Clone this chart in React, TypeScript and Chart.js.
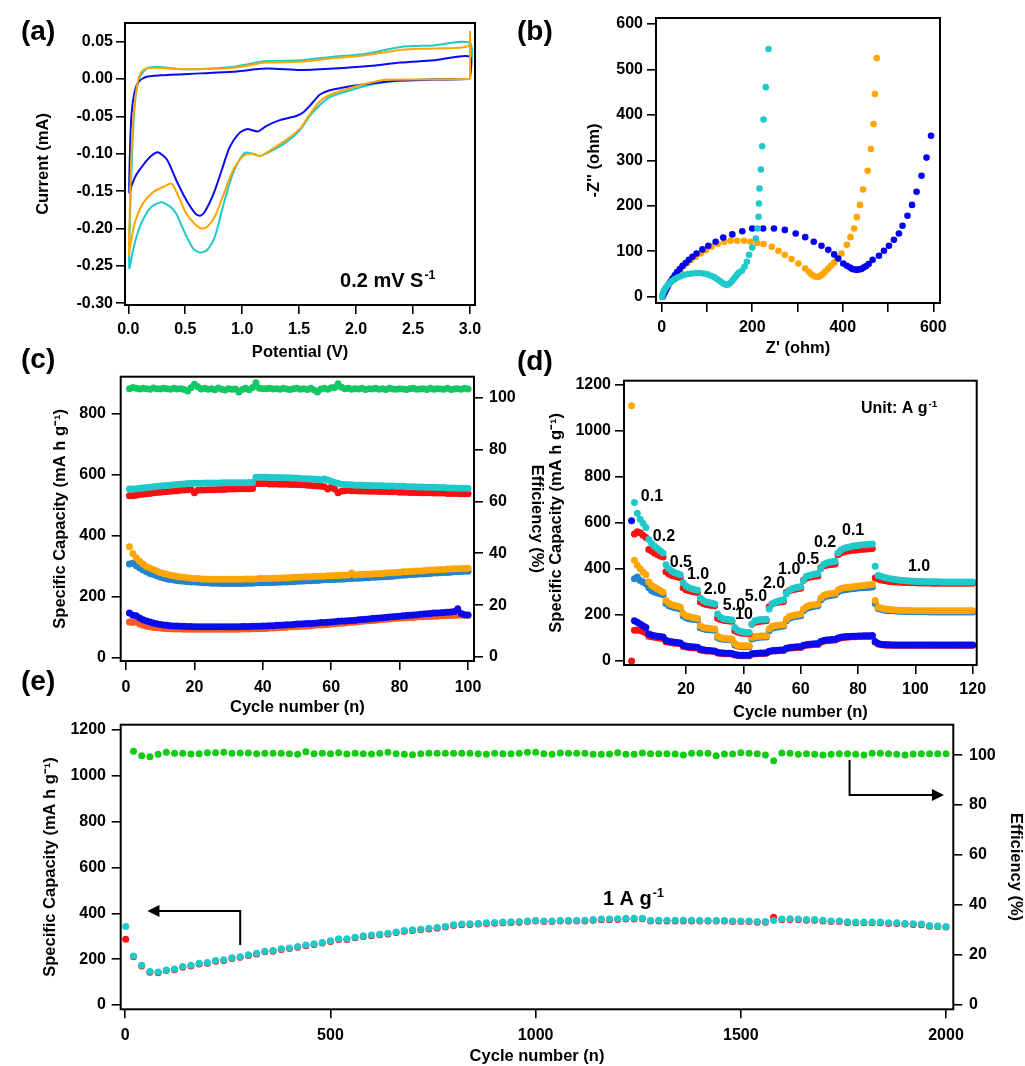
import React, { useEffect, useRef } from 'react';
import { Chart, registerables } from 'chart.js';

Chart.register(...registerables);

const FONT = "'Liberation Sans', Arial, Helvetica, sans-serif";
const TICK_SIZE = 16;
const TITLE_SIZE = 16.5;

// ---------------- (a) cyclic voltammetry ----------------
const aOrangeV = [3.0, 2.97, 2.68, 2.27, 2.09, 1.95, 1.77, 1.68, 1.59, 1.51, 1.39, 1.27, 1.16, 1.08, 1.01, 0.92, 0.83, 0.76, 0.69, 0.64, 0.59, 0.51, 0.44, 0.38, 0.31, 0.22, 0.13, 0.06, 0.015, 0.006, 0.015, 0.035, 0.059, 0.088, 0.13, 0.22, 0.48, 0.92, 1.21, 1.51, 1.80, 2.09, 2.39, 2.68, 2.985, 3.0, 3.0];
const aOrangeI = [0.0, 0.0, -0.0005, -0.001, -0.006, -0.012, -0.021, -0.030, -0.048, -0.066, -0.081, -0.093, -0.103, -0.100, -0.103, -0.122, -0.157, -0.184, -0.198, -0.200, -0.195, -0.180, -0.157, -0.140, -0.144, -0.151, -0.166, -0.191, -0.224, -0.235, -0.162, -0.073, -0.028, -0.001, 0.012, 0.015, 0.013, 0.015, 0.022, 0.023, 0.028, 0.032, 0.039, 0.041, 0.044, 0.063, 0.0];
const aBlueV = [3.0, 2.68, 2.39, 2.24, 1.98, 1.77, 1.68, 1.61, 1.54, 1.48, 1.33, 1.21, 1.14, 1.04, 0.97, 0.89, 0.82, 0.75, 0.67, 0.63, 0.59, 0.51, 0.42, 0.34, 0.26, 0.20, 0.13, 0.07, 0.03, 0.009, 0.015, 0.029, 0.053, 0.088, 0.16, 0.28, 0.63, 0.92, 1.21, 1.51, 1.80, 2.09, 2.39, 2.68, 3.0, 3.0];
const aBlueI = [0.0, -0.001, -0.002, -0.004, -0.009, -0.015, -0.021, -0.033, -0.044, -0.049, -0.055, -0.063, -0.070, -0.067, -0.073, -0.091, -0.122, -0.153, -0.178, -0.183, -0.180, -0.162, -0.135, -0.108, -0.098, -0.103, -0.115, -0.128, -0.142, -0.152, -0.095, -0.046, -0.019, -0.004, 0.003, 0.005, 0.0076, 0.0098, 0.014, 0.012, 0.014, 0.017, 0.022, 0.025, 0.030, 0.0];
const aCyanV = [3.0, 2.68, 2.27, 2.09, 1.95, 1.77, 1.68, 1.59, 1.51, 1.39, 1.27, 1.16, 1.10, 1.02, 0.92, 0.83, 0.76, 0.69, 0.63, 0.57, 0.50, 0.42, 0.37, 0.28, 0.19, 0.10, 0.044, 0.009, 0.015, 0.038, 0.061, 0.097, 0.16, 0.25, 0.48, 0.92, 1.21, 1.51, 1.80, 2.09, 2.39, 2.68, 3.0, 3.0];
const aCyanI = [0.0, 0.0, -0.004, -0.009, -0.015, -0.024, -0.035, -0.050, -0.068, -0.084, -0.095, -0.103, -0.100, -0.099, -0.126, -0.171, -0.211, -0.229, -0.232, -0.227, -0.207, -0.180, -0.171, -0.165, -0.173, -0.198, -0.227, -0.253, -0.184, -0.082, -0.028, 0.001, 0.014, 0.0165, 0.013, 0.0165, 0.024, 0.025, 0.030, 0.034, 0.043, 0.045, 0.048, 0.0];
const aXTicks = [0, 0.5, 1, 1.5, 2, 2.5, 3];
const aYTicks = [-0.3, -0.25, -0.2, -0.15, -0.1, -0.05, 0, 0.05];

// ---------------- (b) Nyquist ----------------
const bCyanX = [1, 2, 4, 6, 9, 13, 17, 22, 28, 35, 42, 50, 58, 66, 75, 84, 93, 101, 109, 116, 122, 128, 133, 138, 143, 147, 151, 155, 159, 163, 167, 171, 177, 183, 188, 193, 200, 208, 212, 214, 215, 216, 219, 222, 225, 230, 236];
const bCyanY = [0, 5, 10, 15, 20, 25, 29, 34, 38, 42, 45, 48, 50, 51, 52, 52, 51, 49, 46, 43, 39, 35, 31, 28, 26, 27, 30, 34, 39, 44, 49, 53, 57, 66, 77, 92, 108, 128, 150, 176, 205, 238, 280, 331, 390, 461, 545];
const bOrangeX = [2, 4, 7, 10, 14, 18, 23, 28, 34, 41, 48, 56, 65, 75, 86, 98, 110, 124, 138, 152, 167, 182, 196, 211, 225, 243, 258, 272, 287, 302, 317, 325, 331, 337, 342, 347, 352, 357, 362, 368, 374, 381, 387, 397, 409, 417, 425, 431, 438, 445, 455, 462, 468, 471, 475];
const bOrangeY = [0, 5, 11, 17, 24, 31, 38, 45, 52, 60, 67, 74, 81, 88, 95, 102, 110, 116, 121, 123, 123, 123, 121, 118, 116, 110, 101, 92, 83, 73, 62, 55, 49, 45, 44, 44, 47, 51, 56, 62, 68, 75, 82, 95, 114, 131, 150, 175, 202, 236, 277, 325, 380, 446, 525];
const bBlueX = [2, 4, 7, 10, 13, 16, 20, 24, 29, 34, 40, 46, 53, 60, 68, 77, 90, 103, 119, 136, 156, 178, 200, 224, 248, 272, 296, 317, 336, 353, 368, 381, 390, 401, 409, 416, 421, 426, 431, 436, 441, 446, 451, 457, 466, 480, 491, 502, 513, 524, 532, 543, 553, 563, 574, 585, 595];
const bBlueY = [0, 4, 10, 16, 22, 28, 34, 40, 47, 54, 61, 68, 74, 81, 88, 95, 104, 112, 121, 130, 137, 144, 150, 150, 150, 147, 139, 131, 121, 112, 103, 93, 84, 73, 68, 64, 61, 60, 59, 60, 61, 64, 67, 72, 81, 90, 101, 112, 125, 139, 156, 178, 202, 231, 266, 306, 354];
const bTicks = [0, 100, 200, 300, 400, 500, 600];

// ---------------- (c) cycling at low rate, 100 cycles ----------------
const cEff = [
  103.5, 103.9, 103.6, 103.4, 103.6, 103.5, 103.3, 103.7, 103.5, 103.4,
  103.6, 103.5, 103.3, 103.6, 103.4, 103.5, 103.2, 102.6, 103.8, 105.2,
  104.2, 103.4, 103.6, 103.3, 103.5, 103.1, 103.7, 103.3, 103.0, 103.5,
  103.3, 103.4, 102.2, 103.2, 103.6, 103.1, 103.9, 105.8, 103.6, 103.5,
  103.5, 103.6, 103.4, 103.5, 103.3, 103.6, 103.4, 103.2, 103.5, 103.6,
  103.3, 103.5, 103.2, 103.6, 103.0, 102.2, 103.4, 103.6, 103.3, 103.8,
  103.9, 105.4, 104.0, 103.5, 103.6, 103.3, 103.5, 103.4, 103.6, 103.2,
  103.5, 103.4, 103.6, 103.3, 103.5, 103.2, 103.6, 103.4, 103.3, 103.5,
  103.4, 103.2, 103.5, 103.6, 103.3, 103.4, 103.5, 103.2, 103.6, 103.3,
  103.5, 103.4, 103.3, 103.6, 103.2, 103.4, 103.5, 103.3, 103.6, 103.4];
const cCyan = [
  552, 552, 553, 555, 556, 557, 558, 560, 561, 562,
  563, 564, 565, 566, 567, 568, 569, 570, 570, 571,
  571, 571, 572, 572, 572, 572, 572, 573, 573, 573,
  573, 573, 573, 573, 573, 574, 574, 591, 591, 591,
  591, 590, 590, 590, 590, 589, 589, 589, 588, 588,
  587, 586, 586, 585, 585, 584, 583, 585, 582, 578,
  574, 571, 568, 567, 566, 566, 565, 565, 565, 564,
  564, 564, 563, 563, 563, 562, 562, 562, 561, 561,
  561, 560, 560, 560, 559, 559, 559, 558, 558, 558,
  557, 557, 557, 556, 556, 556, 555, 555, 555, 554];
const cRed = [
  530, 530, 532, 534, 535, 537, 538, 540, 541, 542,
  543, 544, 545, 546, 547, 548, 549, 550, 550, 540,
  548, 549, 549, 550, 550, 550, 551, 551, 551, 552,
  552, 552, 553, 553, 553, 553, 554, 570, 570, 570,
  570, 569, 569, 569, 568, 568, 568, 567, 567, 567,
  566, 566, 565, 564, 563, 562, 561, 560, 552, 558,
  552, 540, 545, 547, 548, 547, 547, 546, 546, 546,
  545, 545, 545, 544, 544, 544, 543, 543, 543, 542,
  542, 542, 541, 541, 541, 540, 540, 540, 540, 539,
  539, 539, 539, 538, 538, 538, 538, 537, 537, 537];
const cOrange = [
  363, 341, 327, 316, 307, 299, 294, 289, 284, 279,
  276, 273, 270, 268, 266, 264, 263, 262, 260, 259,
  259, 258, 258, 257, 257, 257, 257, 257, 257, 257,
  257, 257, 257, 257, 258, 258, 258, 258, 259, 259,
  259, 259, 260, 260, 261, 261, 262, 262, 263, 263,
  264, 264, 265, 265, 266, 266, 267, 267, 268, 268,
  269, 269, 270, 270, 271, 277, 271, 272, 272, 273,
  273, 274, 275, 275, 276, 277, 278, 278, 279, 280,
  281, 281, 282, 283, 284, 284, 285, 286, 287, 287,
  288, 289, 289, 290, 290, 291, 291, 292, 292, 293];
const cSteel = [
  307, 309, 301, 294, 287, 281, 276, 272, 268, 264,
  261, 258, 256, 254, 252, 251, 250, 249, 248, 248,
  247, 246, 245, 245, 244, 244, 244, 243, 243, 243,
  243, 243, 243, 243, 244, 244, 244, 245, 245, 245,
  246, 246, 246, 247, 247, 248, 248, 249, 249, 250,
  250, 251, 252, 252, 253, 253, 254, 255, 255, 256,
  256, 257, 257, 258, 259, 259, 260, 260, 261, 262,
  262, 263, 263, 264, 265, 265, 266, 267, 268, 269,
  270, 271, 272, 272, 273, 274, 274, 275, 276, 277,
  277, 278, 279, 279, 280, 281, 281, 282, 283, 283];
const cBlue = [
  146, 139, 137, 130, 124, 120, 117, 114, 111, 109,
  107, 106, 105, 104, 104, 103, 103, 102, 102, 101,
  101, 101, 101, 101, 101, 101, 101, 101, 101, 101,
  101, 101, 101, 102, 102, 102, 103, 103, 103, 104,
  104, 105, 105, 106, 106, 107, 108, 108, 109, 110,
  110, 111, 112, 112, 113, 114, 115, 115, 116, 117,
  118, 119, 120, 120, 121, 122, 123, 124, 125, 126,
  127, 128, 129, 130, 131, 132, 133, 134, 135, 136,
  137, 138, 139, 140, 141, 142, 143, 144, 145, 146,
  146, 147, 148, 149, 150, 151, 160, 145, 141, 140];
const cRed2 = [
  117, 115, 117, 110, 106, 103, 101, 99, 98, 97,
  96, 95, 95, 94, 94, 94, 93, 93, 93, 93,
  93, 93, 93, 93, 93, 93, 93, 93, 93, 93,
  93, 93, 93, 94, 94, 94, 95, 95, 95, 96,
  96, 97, 97, 98, 99, 99, 100, 101, 101, 102,
  103, 103, 104, 105, 106, 107, 107, 108, 109, 110,
  111, 112, 113, 114, 115, 116, 117, 118, 119, 120,
  121, 122, 123, 124, 125, 126, 127, 128, 129, 130,
  130, 131, 132, 132, 133, 134, 134, 135, 135, 136,
  136, 137, 137, 138, 138, 139, 139, 139, 139, 139];

// ---------------- (d) rate capability, 120 cycles ----------------
const dCyan = [null, 689, 642, 616, 599, 580,
  528, 511, 499, 489, 479, 470,
  419, 401, 391, 384, 380, 375,
  340, 326, 318, 314, 311, 308,
  274, 263, 257, 254, 251, 248,
  204, 190, 184, 181, 180, 178,
  146, 134, 128, 126, 124, 124,
  161, 175, 178, 180, 180, 181,
  226, 248, 255, 260, 263, 266,
  292, 307, 314, 318, 321, 324,
  350, 368, 372, 375, 378, 380,
  401, 420, 426, 429, 431, 434,
  470, 482, 489, 493, 496, 499, 501, 502, 504, 505, 507, 508, 509,
  412, 372, 368, 364, 361, 358, 356, 354, 352, 351, 350, 349, 348, 347, 347, 346, 346, 346, 345, 345,
  345, 345, 345, 344, 344, 344, 344, 344, 344, 344, 344, 344, 344, 344, 344];
const dRed = [null, 552, 562, 558, 547, 537,
  485, 478, 470, 463, 457, 452,
  388, 378, 372, 368, 365, 362,
  318, 310, 305, 302, 300, 298,
  256, 250, 246, 243, 241, 240,
  186, 180, 177, 175, 174, 173,
  132, 126, 122, 121, 120, 120,
  160, 168, 171, 173, 174, 175,
  236, 248, 252, 255, 257, 259,
  298, 305, 309, 312, 314, 316,
  352, 360, 364, 366, 368, 370,
  405, 413, 416, 418, 420, 422,
  462, 470, 474, 477, 479, 481, 482, 484, 485, 486, 487, 488, 489,
  362, 356, 352, 350, 348, 346, 345, 344, 343, 342, 341, 341, 340, 340, 340, 339, 339, 339, 339, 339,
  338, 338, 338, 338, 338, 338, 338, 338, 338, 338, 338, 338, 338, 338, 338];
const dOrange = [1110, 438, 416, 401, 387, 375,
  343, 328, 321, 314, 307, 299,
  263, 251, 245, 241, 238, 234,
  207, 197, 193, 190, 187, 185,
  153, 146, 143, 142, 140, 139,
  109, 102, 99, 98, 96, 96,
  76, 69, 66, 66, 66, 66,
  102, 107, 108, 109, 109, 109,
  139, 150, 153, 155, 156, 158,
  182, 193, 197, 200, 201, 204,
  226, 236, 241, 244, 245, 248,
  274, 285, 289, 292, 293, 295,
  309, 315, 318, 320, 321, 323, 324, 326, 327, 328, 330, 331, 333,
  263, 234, 230, 227, 225, 224, 223, 222, 221, 221, 220, 220, 220, 219, 219, 219, 219, 219, 219, 218,
  218, 218, 218, 218, 218, 218, 218, 218, 218, 218, 218, 218, 218, 218, 218];
const dSteel = [null, 358, 365, 350, 343, 336,
  318, 305, 300, 296, 292, 288,
  250, 240, 236, 232, 229, 226,
  196, 188, 184, 182, 180, 178,
  145, 140, 137, 136, 135, 134,
  102, 97, 95, 93, 92, 91,
  70, 65, 63, 62, 62, 62,
  96, 100, 102, 103, 104, 104,
  132, 142, 146, 148, 150, 152,
  175, 186, 190, 193, 195, 197,
  218, 228, 233, 236, 238, 240,
  265, 276, 281, 284, 286, 288,
  300, 306, 309, 311, 313, 314, 315, 317, 318, 319, 320, 321, 322,
  250, 228, 225, 222, 220, 219, 218, 217, 216, 216, 215, 215, 215, 214, 214, 214, 214, 214, 214, 213,
  213, 213, 213, 213, 213, 213, 213, 213, 213, 213, 213, 213, 213, 213, 213];
const dBlue = [610, 175, 168, 161, 153, 146,
  117, 113, 110, 108, 106, 104,
  90, 86, 84, 82, 80, 78,
  68, 65, 63, 62, 61, 60,
  52, 49, 47, 46, 45, 44,
  38, 36, 35, 34, 34, 33,
  28, 26, 25, 25, 25, 25,
  31, 33, 34, 35, 35, 36,
  42, 45, 46, 47, 48, 48,
  55, 58, 60, 61, 62, 62,
  68, 71, 73, 74, 75, 75,
  85, 89, 91, 92, 93, 94,
  100, 103, 105, 106, 107, 108, 108, 109, 109, 110, 110, 110, 111,
  85, 76, 73, 72, 71, 71, 70, 70, 70, 70, 70, 70, 70, 70, 70, 70, 70, 70, 70, 70,
  70, 70, 70, 70, 70, 70, 70, 70, 70, 70, 70, 70, 70, 70, 70];
const dRed2 = [0, 134, 135, 133, 128, 122,
  108, 105, 103, 101, 99, 98,
  84, 81, 79, 77, 76, 75,
  63, 61, 59, 58, 57, 56,
  48, 46, 44, 43, 42, 41,
  35, 33, 32, 31, 31, 30,
  26, 24, 23, 23, 23, 23,
  29, 31, 32, 33, 33, 34,
  40, 43, 44, 45, 46, 46,
  53, 56, 57, 58, 59, 59,
  65, 68, 70, 71, 72, 72,
  82, 86, 88, 89, 90, 91,
  97, 100, 102, 103, 104, 105, 105, 106, 106, 107, 107, 107, 108,
  82, 74, 71, 70, 69, 69, 68, 68, 68, 68, 68, 68, 68, 68, 68, 68, 68, 68, 68, 68,
  68, 68, 68, 68, 68, 68, 68, 68, 68, 68, 68, 68, 68, 68, 68];
const dRateText = ['0.1', '0.2', '0.5', '1.0', '2.0', '5.0', '10', '5.0', '2.0', '1.0', '0.5', '0.2', '0.1', '1.0'];

// ---------------- (e) long cycling at 1 A/g ----------------
const eCycles = [1, 20, 40, 60, 80, 100, 120, 140, 160, 180, 200, 220, 240, 260, 280, 300, 320, 340, 360, 380,
  400, 420, 440, 460, 480, 500, 520, 540, 560, 580, 600, 620, 640, 660, 680, 700, 720, 740, 760, 780,
  800, 820, 840, 860, 880, 900, 920, 940, 960, 980, 1000, 1020, 1040, 1060, 1080, 1100, 1120, 1140, 1160, 1180,
  1200, 1220, 1240, 1260, 1280, 1300, 1320, 1340, 1360, 1380, 1400, 1420, 1440, 1460, 1480, 1500, 1520, 1540, 1560, 1580,
  1600, 1620, 1640, 1660, 1680, 1700, 1720, 1740, 1760, 1780, 1800, 1820, 1840, 1860, 1880, 1900, 1920, 1940, 1960, 1980, 2000];
const eCyan = [343, 214, 173, 146, 144, 153, 157, 168, 173, 182, 185, 194, 197, 206, 211, 219, 226, 235, 238, 245,
  249, 255, 262, 267, 273, 280, 289, 289, 296, 302, 305, 309, 313, 319, 325, 328, 331, 335, 338, 343,
  350, 353, 354, 356, 359, 360, 362, 363, 364, 367, 369,
  367, 367, 369, 369, 369, 370, 373, 375, 375, 376, 378, 378, 379, 369, 370, 370, 370, 370, 370, 369,
  369, 369, 369, 367, 367, 367, 364, 364, 369, 375, 376, 375, 373, 373, 370, 367, 367, 363, 362, 362,
  362, 362, 359, 359, 356, 354, 353, 347, 345, 343];
const eRed = [287, 210, 170, 143, 141, 150, 154, 165, 170, 179, 182, 191, 194, 203, 208, 216, 223, 232, 235, 242,
  246, 252, 259, 264, 270, 277, 286, 286, 293, 299, 302, 306, 310, 316, 322, 325, 328, 332, 335, 340,
  347, 350, 351, 353, 356, 357, 359, 360, 361, 364, 366,
  364, 364, 366, 366, 366, 367, 370, 372, 372, 373, 375, 375, 376, 366, 367, 367, 367, 367, 367, 366,
  366, 366, 366, 364, 364, 364, 361, 361, 383, 372, 373, 372, 370, 370, 367, 364, 364, 360, 359, 359,
  359, 359, 356, 356, 353, 351, 350, 344, 342, 340];
const eEff = [null, 101.5, 99.7, 99.3, 100.3, 101.1, 100.7, 100.7, 100.4, 100.5, 100.9, 100.9, 101.1, 100.7, 100.8, 100.8, 100.5, 100.7, 100.7, 100.7,
  100.5, 100.3, 101.3, 100.5, 100.7, 100.5, 100.9, 100.4, 100.7, 100.5, 100.4, 100.7, 101.1, 100.5, 100.3, 100.1, 100.5, 100.7, 100.7, 100.7,
  100.7, 100.7, 100.7, 100.5, 100.3, 100.7, 100.5, 100.5, 100.7, 101.1, 101.1,
  100.5, 100.3, 100.8, 100.7, 100.7, 100.7, 100.3, 100.3, 100.4, 100.9, 100.3, 100.3, 100.8, 100.5, 100.5, 100.5, 100.4, 100.0, 100.7, 100.7,
  100.7, 99.7, 100.4, 100.4, 100.9, 100.7, 100.5, 100.0, 97.7, 100.8, 100.7, 100.3, 100.5, 100.3, 100.0, 100.3, 100.5, 100.5, 100.3, 100.0,
  100.7, 100.7, 100.5, 100.3, 100.0, 100.4, 100.5, 100.5, 100.5, 100.5];

// ---------------- colours ----------------
const C_ORANGE = '#FFA500';
const C_CYAN = '#1EC9C9';
const C_BLUE = '#0A0AEE';
const C_RED = '#F51212';
const C_STEEL = '#2383CC';
const C_ORED = '#FF5A1E';
const C_GREEN_C = '#12C864';
const C_GREEN_E = '#12CC12';

// ---------------- helpers ----------------
type AxisOpts = {
  pos: 'left' | 'right' | 'bottom';
  min: number; max: number; ticks: number[];
  label?: (v: number) => string;
  title?: string; size: number; titlePad?: number; tickPad: number;
};

function axis(o: AxisOpts) {
  const horiz = o.pos === 'bottom';
  return {
    type: 'linear',
    position: o.pos,
    min: o.min,
    max: o.max,
    bounds: 'data',
    afterBuildTicks: (s: any) => { s.ticks = o.ticks.map((v) => ({ value: v })); },
    afterFit: (s: any) => { if (horiz) s.height = o.size; else s.width = o.size; },
    grid: { display: true, drawOnChartArea: false, drawTicks: true, tickLength: 9, tickWidth: 1.6, tickColor: '#000', color: '#000', lineWidth: 1.6 },
    border: { display: false },
    ticks: {
      autoSkip: false, maxRotation: 0, minRotation: 0, padding: o.tickPad, color: '#000',
      font: { family: FONT, size: TICK_SIZE, weight: 'bold' },
      callback: (v: any) => (o.label ? o.label(Number(v)) : String(v)),
    },
    title: o.title
      ? {
          display: true, text: o.title, color: '#000',
          font: { family: FONT, size: TITLE_SIZE, weight: 'bold' },
          padding: horiz ? { top: 0, bottom: o.titlePad ?? 0 } : { top: o.titlePad ?? 0, bottom: 0 },
        }
      : { display: false },
  };
}

function baseOptions(padTop: number, padRight: number, scales: any) {
  return {
    responsive: false,
    animation: false,
    events: [],
    layout: { padding: { top: padTop, right: padRight, left: 0, bottom: 0 } },
    plugins: { legend: { display: false }, tooltip: { enabled: false } },
    scales,
  };
}

const framePlugin = {
  id: 'frame',
  afterDatasetsDraw(chart: any) {
    const { ctx, chartArea: a } = chart;
    ctx.save();
    ctx.strokeStyle = '#000';
    ctx.lineWidth = 2;
    ctx.strokeRect(a.left, a.top, a.right - a.left, a.bottom - a.top);
    ctx.restore();
  },
};

type Note = { x: number; y: number; text: string; sup?: string; size: number; center?: boolean; yAxis?: string };
type Arrow = { pts: [number, number][]; yAxis?: string };

function notesPlugin(notes: Note[], arrows: Arrow[] = []) {
  return {
    id: 'notes',
    afterDraw(chart: any) {
      const ctx = chart.ctx;
      const xs = chart.scales.x;
      ctx.save();
      ctx.fillStyle = '#000';
      ctx.strokeStyle = '#000';
      ctx.textAlign = 'left';
      for (const n of notes) {
        const ys = chart.scales[n.yAxis || 'y'];
        let px = xs.getPixelForValue(n.x);
        const py = ys.getPixelForValue(n.y);
        ctx.font = `bold ${n.size}px ${FONT}`;
        const w1 = ctx.measureText(n.text).width;
        const ss = n.size * 0.62;
        let w2 = 0;
        if (n.sup) { ctx.font = `bold ${ss}px ${FONT}`; w2 = ctx.measureText(n.sup).width + 1; }
        if (n.center) px -= (w1 + w2) / 2;
        ctx.textBaseline = n.center ? 'middle' : 'alphabetic';
        ctx.font = `bold ${n.size}px ${FONT}`;
        ctx.fillText(n.text, px, py);
        if (n.sup) {
          ctx.font = `bold ${ss}px ${FONT}`;
          ctx.fillText(n.sup, px + w1 + 1, py - n.size * 0.42);
        }
      }
      for (const a of arrows) {
        const ys = chart.scales[a.yAxis || 'y'];
        const p = a.pts.map(([x, y]) => [xs.getPixelForValue(x), ys.getPixelForValue(y)]);
        const [tx, ty] = p[p.length - 1];
        const [bx, by] = p[p.length - 2];
        const ang = Math.atan2(ty - by, tx - bx);
        const L = 12, H = 6;
        const c = Math.cos(ang), s = Math.sin(ang);
        ctx.lineWidth = 2;
        ctx.beginPath();
        ctx.moveTo(p[0][0], p[0][1]);
        for (let i = 1; i < p.length - 1; i++) ctx.lineTo(p[i][0], p[i][1]);
        ctx.lineTo(tx - L * c * 0.8, ty - L * s * 0.8);
        ctx.stroke();
        ctx.beginPath();
        ctx.moveTo(tx, ty);
        ctx.lineTo(tx - L * c + H * s, ty - L * s - H * c);
        ctx.lineTo(tx - L * c - H * s, ty - L * s + H * c);
        ctx.closePath();
        ctx.fill();
      }
      ctx.restore();
    },
  };
}

const pairs = (xs: number[], ys: (number | null)[]) => xs.map((x, i) => ({ x, y: ys[i] }));
const byCycle = (ys: (number | null)[]) => ys.map((y, i) => ({ x: i + 1, y }));

function dots(data: any[], color: string, r: number, yAxisID = 'y') {
  return {
    data, yAxisID, showLine: false,
    backgroundColor: color, borderColor: color,
    pointRadius: r, pointHoverRadius: r, pointBorderWidth: 0,
  };
}

function cvLine(v: number[], i: number[], color: string) {
  return {
    data: pairs(v, i), showLine: true, fill: false,
    borderColor: color, backgroundColor: color, borderWidth: 2,
    pointRadius: 0, pointHoverRadius: 0, tension: 0.25,
  };
}

// ---------------- panel configs ----------------
const makeA = () => ({
  type: 'scatter',
  data: { datasets: [cvLine(aOrangeV, aOrangeI, C_ORANGE), cvLine(aBlueV, aBlueI, C_BLUE), cvLine(aCyanV, aCyanI, C_CYAN)] },
  options: baseOptions(23, 25, {
    x: axis({ pos: 'bottom', min: -0.029, max: 3.044, ticks: aXTicks, label: (v) => v.toFixed(1), title: 'Potential (V)', size: 60, titlePad: 3, tickPad: 6 }),
    y: axis({ pos: 'left', min: -0.3023, max: 0.075, ticks: aYTicks, label: (v) => v.toFixed(2), title: 'Current (mA)', size: 125, titlePad: 34, tickPad: 3 }),
  }),
  plugins: [framePlugin, notesPlugin([{ x: 1.859, y: -0.2783, text: '0.2 mV S', sup: '-1', size: 20 }])],
});

const makeB = () => ({
  type: 'scatter',
  data: { datasets: [dots(pairs(bCyanX, bCyanY), C_CYAN, 3.3), dots(pairs(bBlueX, bBlueY), '#0000F5', 3.3), dots(pairs(bOrangeX, bOrangeY), C_ORANGE, 3.3)] },
  options: baseOptions(18, 60, {
    x: axis({ pos: 'bottom', min: -12.6, max: 614.8, ticks: bTicks, label: (v) => (v % 200 === 0 ? String(v) : ''), title: "Z' (ohm)", size: 62, titlePad: 7, tickPad: 5.5 }),
    y: axis({ pos: 'left', min: -13.9, max: 613.2, ticks: bTicks, title: "-Z'' (ohm)", size: 156, titlePad: 85, tickPad: 4 }),
  }),
  plugins: [framePlugin],
});

const CAP_TITLE = 'Specific Capacity (mA h g\u207B\u00B9)';

const makeC = () => ({
  type: 'scatter',
  data: {
    datasets: [
      dots(byCycle(cEff), C_GREEN_C, 3.5, 'y2'),
      dots(byCycle(cCyan), C_CYAN, 3.5),
      dots(byCycle(cRed), C_RED, 3.5),
      dots(byCycle(cOrange), C_ORANGE, 3.5),
      dots(byCycle(cSteel), C_STEEL, 3.5),
      dots(byCycle(cBlue), C_BLUE, 3.5),
      dots(byCycle(cRed2), C_ORED, 3.5),
    ],
  },
  options: baseOptions(46.7, 0, {
    x: axis({ pos: 'bottom', min: -1.55, max: 101.75, ticks: [0, 20, 40, 60, 80, 100], title: 'Cycle number (n)', size: 59, titlePad: 2.6, tickPad: 7.5 }),
    y: axis({ pos: 'left', min: -10.8, max: 920, ticks: [0, 200, 400, 600, 800], title: CAP_TITLE, size: 120.7, titlePad: 51, tickPad: 5.7 }),
    y2: axis({ pos: 'right', min: -1.54, max: 108.1, ticks: [0, 20, 40, 60, 80, 100], title: 'Efficiency (%)', size: 86, titlePad: 14, tickPad: 6 }),
  }),
  plugins: [framePlugin],
});

const makeD = () => ({
  type: 'scatter',
  data: {
    datasets: [
      dots(byCycle(dCyan), C_CYAN, 3.5),
      dots(byCycle(dRed), '#FF1010', 3.5),
      dots(byCycle(dOrange), C_ORANGE, 3.5),
      dots(byCycle(dSteel), C_STEEL, 3.5),
      dots(byCycle(dBlue), C_BLUE, 3.5),
      dots(byCycle(dRed2), '#FF1010', 3.5),
    ],
  },
  options: baseOptions(50.7, 48.3, {
    x: axis({ pos: 'bottom', min: -1.64, max: 121.4, ticks: [20, 40, 60, 80, 100, 120], title: 'Cycle number (n)', size: 65, titlePad: 8, tickPad: 5.5 }),
    y: axis({ pos: 'left', min: -17.4, max: 1218.7, ticks: [0, 200, 400, 600, 800, 1000, 1200], title: CAP_TITLE, size: 124, titlePad: 47, tickPad: 4 }),
  }),
  plugins: [
    framePlugin,
    notesPlugin([
      { x: 81, y: 1077, text: 'Unit: A g', sup: '-1', size: 16 },
      ...[
        [8.1, 713], [12.3, 543], [18.2, 430], [24.2, 374], [30.1, 309], [36.7, 239], [40.2, 200],
        [44.4, 278], [50.7, 335], [56.0, 396], [62.6, 443], [68.5, 513], [78.3, 565], [101.3, 409],
      ].map(([x, y], i) => ({ x, y, text: dRateText[i], size: 16, center: true })),
    ]),
  ],
});

const makeE = () => ({
  type: 'scatter',
  data: {
    datasets: [
      dots(pairs(eCycles, eEff), C_GREEN_E, 3.5, 'y2'),
      dots(pairs(eCycles, eCyan), C_CYAN, 3.5),
      dots(pairs(eCycles, eRed), '#FF1010', 3.5),
    ],
  },
  options: baseOptions(44.7, 0, {
    x: axis({ pos: 'bottom', min: -11.2, max: 2017.8, ticks: [0, 500, 1000, 1500, 2000], title: 'Cycle number (n)', size: 56.7, titlePad: 0, tickPad: 7.2 }),
    y: axis({ pos: 'left', min: -18.8, max: 1223, ticks: [0, 200, 400, 600, 800, 1000, 1200], title: CAP_TITLE, size: 120.7, titlePad: 41, tickPad: 5.7 }),
    y2: axis({ pos: 'right', min: -2.0, max: 112.2, ticks: [0, 20, 40, 60, 80, 100], title: 'Efficiency (%)', size: 71.7, titlePad: 0, tickPad: 6.7 }),
  }),
  plugins: [
    framePlugin,
    notesPlugin(
      [{ x: 1164, y: 436, text: '1 A g', sup: '-1', size: 20 }],
      [
        { pts: [[280, 262], [280, 410], [54, 410]] },
        { pts: [[1765, 98], [1765, 84], [1995, 84]], yAxis: 'y2' },
      ],
    ),
  ],
});

// ---------------- components ----------------
function ChartCanvas(props: { left: number; top: number; width: number; height: number; make: () => any }) {
  const ref = useRef<HTMLCanvasElement | null>(null);
  const { make } = props;
  useEffect(() => {
    if (!ref.current) return;
    const chart = new Chart(ref.current, make());
    return () => chart.destroy();
  }, [make]);
  return (
    <canvas
      ref={ref}
      width={props.width}
      height={props.height}
      style={{ position: 'absolute', left: props.left, top: props.top, width: props.width, height: props.height }}
    />
  );
}

function PanelLabel(props: { text: string; left: number; top: number }) {
  return (
    <div
      style={{
        position: 'absolute', left: props.left, top: props.top, fontFamily: FONT, fontWeight: 'bold',
        fontSize: 28, lineHeight: 1, color: '#000', whiteSpace: 'nowrap',
      }}
    >
      {props.text}
    </div>
  );
}

export default function App() {
  return (
    <div style={{ position: 'absolute', left: 0, top: 0, width: 1025, height: 1066, background: '#fff', overflow: 'hidden' }}>
      <ChartCanvas left={0} top={0} width={500} height={365} make={makeA} />
      <ChartCanvas left={500} top={0} width={500} height={365} make={makeB} />
      <ChartCanvas left={0} top={330} width={560} height={390} make={makeC} />
      <ChartCanvas left={500} top={330} width={525} height={400} make={makeD} />
      <ChartCanvas left={0} top={680} width={1025} height={386} make={makeE} />
      <PanelLabel text="(a)" left={21} top={17} />
      <PanelLabel text="(b)" left={517} top={17} />
      <PanelLabel text="(c)" left={21} top={345} />
      <PanelLabel text="(d)" left={517} top={347} />
      <PanelLabel text="(e)" left={21} top={667} />
    </div>
  );
}
